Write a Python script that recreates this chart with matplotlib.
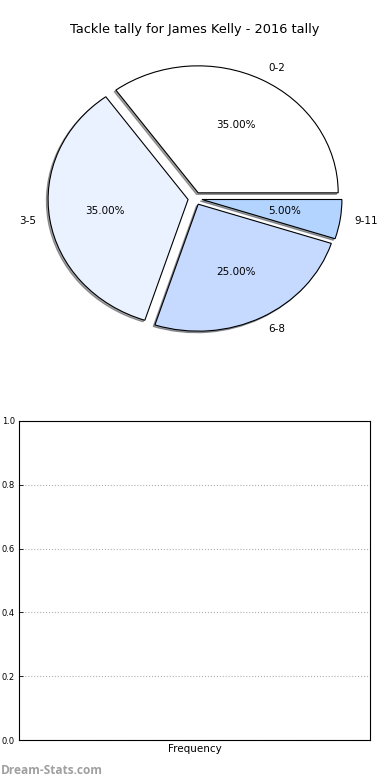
import matplotlib
matplotlib.use("Agg")
import matplotlib.pyplot as plt

categories = ["0-2", "3-5", "6-8", "9-11"]
values = [35, 35, 25, 5]
colors = ["#ffffff", "#ebf2ff", "#c6d9ff", "#b3d4ff"]
yticks = [0.0, 0.2, 0.4, 0.6, 0.8, 1.0]

fig = plt.figure(figsize=(3.9, 7.8), dpi=100)

# Pie axes (non-equal aspect, like old matplotlib)
W, H = 390.0, 780.0
cx, cy = 195.0, 198.5
rx, ry = 140.0, 127.0
top_px, bot_px = 40.0, 380.0
ax = fig.add_axes([0, (H - bot_px) / H, 1, (bot_px - top_px) / H])
wedges, texts, autotexts = ax.pie(
    values, labels=categories, colors=colors, explode=[0.05] * 4,
    autopct="%1.2f%%", shadow=dict(ox=-0.009, oy=-0.009), startangle=0,
    wedgeprops=dict(edgecolor="black", linewidth=0.8),
    textprops=dict(fontsize=7.5))
ax.set_aspect("auto")
ax.set_xlim(-cx / rx, (W - cx) / rx)
ax.set_ylim(-(bot_px - cy) / ry, (cy - top_px) / ry)
ax.axis("off")

fig.text(0.5, 1 - 30 / H, "Tackle tally for James Kelly - 2016 tally",
         ha="center", va="center", fontsize=9.3)

# Empty bar axes
ax2 = fig.add_axes([19 / W, (H - 740) / H, 351 / W, 319 / H])
ax2.set_ylim(0, 1)
ax2.set_yticks(yticks)
ax2.set_yticklabels([f"{t:.1f}" for t in yticks], fontsize=6)
ax2.set_xticks([])
ax2.yaxis.grid(True, linestyle=":", color="#b0b0b0", linewidth=0.8)
ax2.tick_params(axis="y", length=3, width=0.6, direction="in", pad=3)
ax2.set_xlabel("Frequency", fontsize=7.5, labelpad=3)
for s in ax2.spines.values():
    s.set_linewidth(0.8)

fig.text(0.002, 1 - 770 / H, "Dream-Stats.com", ha="left", va="center",
         fontsize=8.6, color="#a0a0a0", fontweight="bold",
         family=["Open Sans", "DejaVu Sans"])

fig.savefig("out.png", dpi=100)
